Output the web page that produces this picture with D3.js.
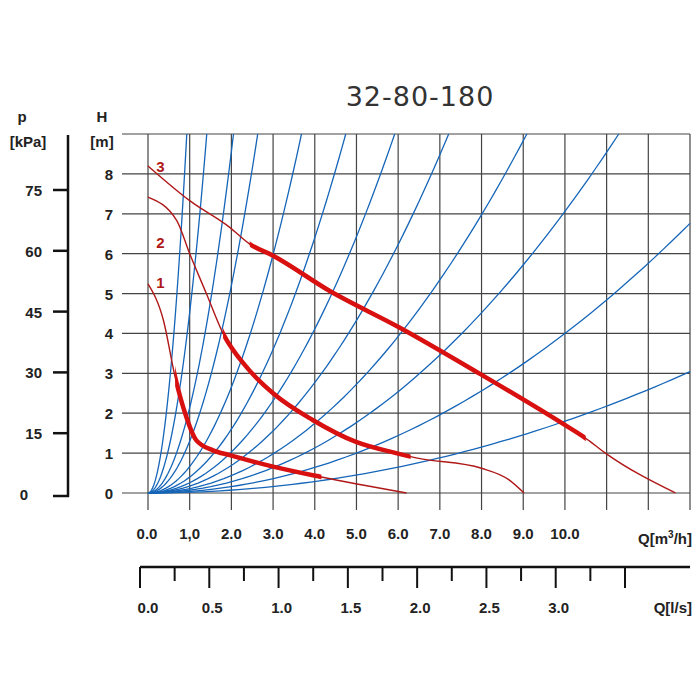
<!DOCTYPE html>
<html>
<head>
<meta charset="utf-8">
<script src="https://d3js.org/d3.v7.min.js"></script>
<style>
body { margin: 0; background: #fff; }
text { font-family: "Liberation Sans", Arial, sans-serif; font-weight: bold; fill: #222; }
</style>
</head>
<body>
<script>
var w = 700, h = 700;

// data
var qTicks = [0, 1, 2, 3, 4, 5, 6, 7, 8, 9, 10];
var qTickLabels = ["0.0", "1,0", "2.0", "3.0", "4.0", "5.0", "6.0", "7.0", "8.0", "9.0", "10.0"];
var hTicks = [0, 1, 2, 3, 4, 5, 6, 7, 8];
var pTicks = [0, 15, 30, 45, 60, 75];
var lsTicks = [0, 0.25, 0.5, 0.75, 1, 1.25, 1.5, 1.75, 2, 2.25, 2.5, 2.75, 3, 3.25, 3.5];
var lsLabels = [0, 0.5, 1, 1.5, 2, 2.5, 3];
// system curves H = k * Q^2
var systemK = [10.4, 4.53, 2.14, 1.30, 0.664, 0.40, 0.257, 0.173, 0.109, 0.0706, 0.040, 0.018];
// pump curves [Q, H]
var curve1 = [[0, 5.24], [0.37, 4.33], [0.65, 2.91], [0.89, 2.0], [1.16, 1.32], [1.56, 1.07], [1.96, 0.95], [3.0, 0.66], [4.16, 0.40], [6.2, 0]];
var curve2 = [[0, 7.42], [0.69, 6.83], [1.0, 6.0], [1.4, 5.0], [1.8, 4.0], [2.36, 3.16], [3.0, 2.5], [3.95, 1.83], [4.99, 1.28], [5.95, 1.0], [6.43, 0.88], [8.0, 0.62], [8.66, 0.33], [9.02, 0]];
var curve3 = [[0, 8.2], [1.0, 7.33], [1.96, 6.66], [2.44, 6.24], [3.0, 5.95], [4.35, 5.07], [6.03, 4.15], [7.94, 3.0], [9.93, 1.75], [10.5, 1.37], [10.97, 1.0], [12.65, 0]];
var thick = [[0.65, 4.16], [1.8, 6.3], [2.44, 10.5]];
var curveLabels = ["1", "2", "3"];
var curveLabelPos = [[0.3, 5.3], [0.3, 6.3], [0.3, 8.2]];

window.onload = function(){
    var svg = d3.select("body").append("svg")
        .attr("width", w).attr("height", h);

    var x = d3.scaleLinear().domain([0, 13]).range([148, 690]);
    var y = d3.scaleLinear().domain([0, 9]).range([493, 134]);
    var yp = d3.scaleLinear().domain([0, 75]).range([494, 190]);
    var xl = d3.scaleLinear().domain([0, 3.5]).range([140, 625]);

    // grid
    svg.selectAll(".vgrid").data(d3.range(0, 14)).enter().append("line")
        .attr("x1", d => x(d)).attr("x2", d => x(d))
        .attr("y1", y(9)).attr("y2", 510)
        .style("stroke", "#444").style("stroke-width", 1.2);
    svg.selectAll(".hgrid").data(d3.range(0, 10)).enter().append("line")
        .attr("x1", 122).attr("x2", x(13))
        .attr("y1", d => y(d)).attr("y2", d => y(d))
        .style("stroke", "#444").style("stroke-width", 1.2);

    // system curves
    var line = d3.line().x(d => x(d[0])).y(d => y(d[1]));
    systemK.forEach(function(k){
        var qmax = Math.min(13, Math.sqrt(9 / k));
        var pts = d3.range(0, 61).map(i => { var q = qmax * i / 60; return [q, k * q * q]; });
        svg.append("path").attr("d", line(pts))
            .style("fill", "none").style("stroke", "#1565b8").style("stroke-width", 1.3);
    });

    // pump curves
    var cline = d3.line().curve(d3.curveMonotoneX).x(d => x(d[0])).y(d => y(d[1]));
    [curve1, curve2, curve3].forEach(function(c, i){
        svg.append("path").attr("d", cline(c))
            .style("fill", "none").style("stroke", "#b01818").style("stroke-width", 1.4);
        var seg = thick[i];
        var clip = svg.append("clipPath").attr("id", "c" + i).append("rect")
            .attr("x", x(seg[0])).attr("width", x(seg[1]) - x(seg[0]))
            .attr("y", 0).attr("height", h);
        svg.append("path").attr("d", cline(c)).attr("clip-path", "url(#c" + i + ")")
            .style("fill", "none").style("stroke", "#d81010").style("stroke-width", 4.5);
        svg.append("text").attr("x", x(curveLabelPos[i][0])).attr("y", y(curveLabelPos[i][1]) + 6)
            .attr("text-anchor", "middle").style("font-size", "15px").style("fill", "#b01818")
            .text(curveLabels[i]);
    });

    // H labels
    svg.selectAll(".hl").data(hTicks).enter().append("text")
        .attr("x", 113).attr("y", d => y(d) + 6).attr("text-anchor", "end")
        .style("font-size", "15px").text(d => d);
    svg.append("text").attr("x", 102).attr("y", 122).attr("text-anchor", "middle").style("font-size", "15px").text("H");
    svg.append("text").attr("x", 102).attr("y", 147).attr("text-anchor", "middle").style("font-size", "15px").text("[m]");

    // p axis
    svg.append("line").attr("x1", 68).attr("x2", 68).attr("y1", 135).attr("y2", 497)
        .style("stroke", "#111").style("stroke-width", 2.5);
    svg.append("line").attr("x1", 53).attr("x2", 69).attr("y1", 496).attr("y2", 496)
        .style("stroke", "#111").style("stroke-width", 2.5);
    svg.selectAll(".pt").data(pTicks.slice(1)).enter().append("line")
        .attr("x1", 53).attr("x2", 68).attr("y1", d => yp(d)).attr("y2", d => yp(d))
        .style("stroke", "#111").style("stroke-width", 2.5);
    svg.selectAll(".pl").data(pTicks).enter().append("text")
        .attr("x", d => d === 0 ? 28 : 42).attr("y", d => yp(d) + 6).attr("text-anchor", "end")
        .style("font-size", "15px").text(d => d);
    svg.append("text").attr("x", 22).attr("y", 122).attr("text-anchor", "middle").style("font-size", "15px").text("p");
    svg.append("text").attr("x", 28).attr("y", 147).attr("text-anchor", "middle").style("font-size", "15px").text("[kPa]");

    // Q m3/h labels
    svg.selectAll(".ql").data(qTicks).enter().append("text")
        .attr("x", d => x(d) + (d === 0 ? -1 : 0)).attr("y", 539).attr("text-anchor", "middle")
        .style("font-size", "15px").text((d, i) => qTickLabels[i]);
    var qt = svg.append("text").attr("x", 692).attr("y", 544).attr("text-anchor", "end").style("font-size", "15px");
    qt.append("tspan").text("Q[m");
    qt.append("tspan").attr("dy", -6).style("font-size", "10px").text("3");
    qt.append("tspan").attr("dy", 6).text("/h]");

    // Q l/s axis
    svg.append("line").attr("x1", 140).attr("x2", 690).attr("y1", 567).attr("y2", 567)
        .style("stroke", "#111").style("stroke-width", 2.5);
    svg.selectAll(".lt").data(lsTicks).enter().append("line")
        .attr("x1", d => xl(d)).attr("x2", d => xl(d)).attr("y1", 567)
        .attr("y2", (d, i) => (i % 2 === 0 ? 588 : 581))
        .style("stroke", "#111").style("stroke-width", 2);
    svg.selectAll(".ll").data(lsLabels).enter().append("text")
        .attr("x", d => xl(d) + (d === 0 ? 8 : 3)).attr("y", 613).attr("text-anchor", "middle")
        .style("font-size", "15px").text(d => d.toFixed(1));
    svg.append("text").attr("x", 692).attr("y", 613).attr("text-anchor", "end").style("font-size", "15px").text("Q[l/s]");

    // title
    svg.append("text").attr("x", 420).attr("y", 106).attr("text-anchor", "middle")
        .style("font-size", "27px").style("font-weight", "normal").style("fill", "#333")
        .style("font-family", "'DejaVu Sans', sans-serif").style("letter-spacing", "1px")
        .text("32-80-180");
};
</script>
</body>
</html>
